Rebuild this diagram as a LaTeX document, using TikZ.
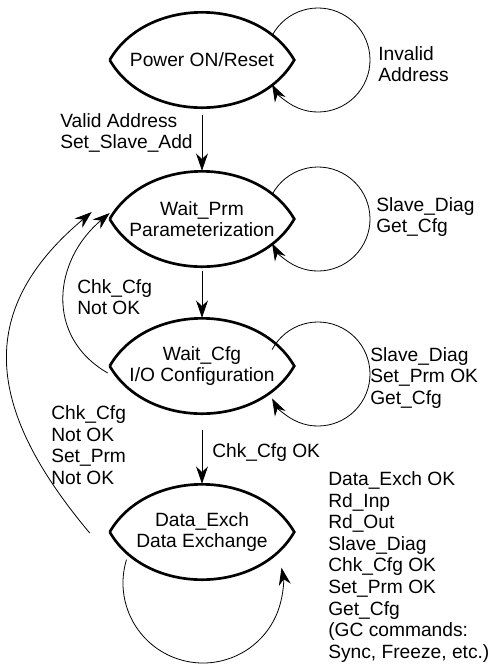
\documentclass[tikz,border=0pt]{standalone}
\usepackage{fontspec}
\setmainfont{Liberation Sans}
\usetikzlibrary{arrows.meta,calc}

\begin{document}
\begin{tikzpicture}
  [
    x=0.75pt, y=0.75pt,
    >={Stealth[length=13pt,width=9pt]},
    phase/.style = {minimum width=138pt, minimum height=72pt, inner sep=0pt, align=center},
    lens/.style  = {line width=2pt},
    link/.style  = {->, line width=0.6pt},
    cmd/.style   = {align=left, anchor=west, inner sep=0pt},
    every node/.style = {font=\fontsize{14.4pt}{16.2pt}\selectfont},
  ]

%Page frame
\useasboundingbox (0,0) rectangle (492,-669);

%Centre line of the states
\def \xc{202}

%The four states
\node[phase] (reset) at (\xc,-60)  {Power ON/Reset};
\node[phase] (prm)   at (\xc,-219) {Wait\_Prm\\Parameterization};
\node[phase] (cfg)   at (\xc,-366) {Wait\_Cfg\\I/O Configuration};
\node[phase] (exch)  at (\xc,-532) {Data\_Exch\\Data Exchange};

%Lens outlines
\foreach \s in {reset,prm,cfg,exch}
{
\draw[lens] (\s.west) to[out=60,in=120,looseness=1.02] (\s.east)
                      to[out=-120,in=-60,looseness=1.02] (\s.west);
}

%Main path down
\draw[link, shorten <=5pt]  (reset) -- (prm);
\draw[link, shorten <=3pt]  (prm)   -- (cfg);
\draw[link, shorten <=12pt] (cfg)   -- (exch);

%Self loops on the right
\foreach \s/\dy in {reset/0,prm/0,cfg/-8}
{
\coordinate (\s-a) at ($(\s)+(116,\dy)+(152:52)$);
\draw[link] (\s-a) arc[start angle=152, end angle=-152, radius=52];
}

%Self loop below Data_Exch
\coordinate (exch-a) at ($(exch)+(1,-51)+(163:80)$);
\draw[link] (exch-a) arc[start angle=163, end angle=371, radius=80];

%Paths back to Wait_Prm
\coordinate (cfg-l)  at ($(cfg.west)+(-2,-7)$);
\coordinate (prm-l)  at ($(prm.west)+(0,6)$);
\coordinate (exch-l) at ($(exch.west)+(-20,-1)$);
\coordinate (prm-ll) at ($(prm.west)+(-18,7)$);
\draw[link] (cfg-l)  to[out=150,in=-140,looseness=1.17] (prm-l);
\draw[link] (exch-l) to[out=130,in=-140,looseness=1.25] (prm-ll);

%Transition texts
\node[cmd] (t-valid)   at (60,-133)  {Valid Address\\Set\_Slave\_Add};
\node[cmd] (t-invalid) at (378,-64)  {Invalid\\Address};
\node[cmd] (t-prm)     at (376,-217) {Slave\_Diag\\Get\_Cfg};
\node[cmd] (t-back)    at (77,-297)  {Chk\_Cfg\\Not OK};
\node[cmd] (t-cfg)     at (370,-378) {Slave\_Diag\\Set\_Prm OK\\Get\_Cfg};
\node[cmd] (t-ok)      at (212,-453) {Chk\_Cfg OK};
\node[cmd] (t-reset)   at (51,-445)  {Chk\_Cfg\\Not OK\\Set\_Prm\\Not OK};
\node[cmd] (t-exch)    at (328,-567) {Data\_Exch OK\\Rd\_Inp\\Rd\_Out\\Slave\_Diag\\Chk\_Cfg OK\\Set\_Prm OK\\Get\_Cfg\\(GC commands:\\Sync, Freeze, etc.)};
\end{tikzpicture}
\end{document}
